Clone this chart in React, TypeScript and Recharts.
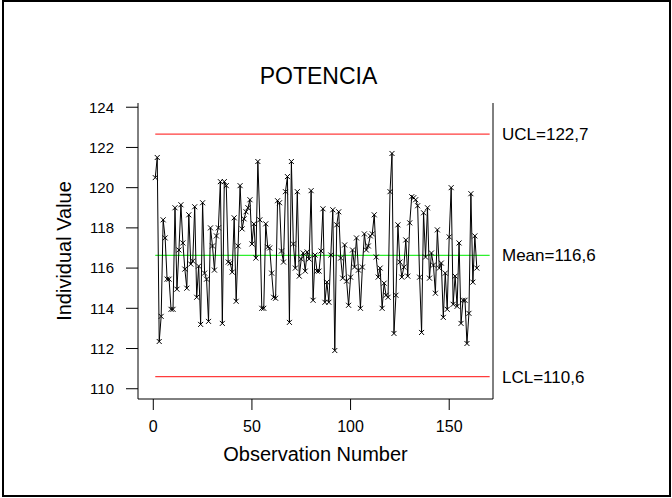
import { LineChart, Line, XAxis, YAxis, ReferenceLine } from 'recharts';

const potencia = [
  120.5, 121.5, 112.35, 113.6, 118.4, 117.5, 115.45, 115.45, 113.95, 113.95,
  119.0, 114.95, 116.9, 119.15, 117.25, 115.95, 115.0, 118.65, 116.2, 116.35,
  119.05, 114.55, 116.1, 113.2, 119.25, 115.75, 115.45, 113.35, 118.0, 117.1,
  115.9, 117.6, 118.0, 120.3, 113.25, 120.3, 120.1, 116.3, 116.25, 115.8,
  118.5, 114.35, 117.1, 120.1, 117.95, 118.45, 118.8, 119.0, 119.4, 117.2,
  118.2, 116.5, 121.3, 118.4, 114.0, 114.0, 118.2, 117.05, 117.0, 115.75,
  114.55, 114.5, 119.35, 119.25, 116.85, 116.3, 119.8, 120.55, 113.3, 121.3,
  117.2, 116.0, 119.8, 115.6, 116.45, 116.75, 115.85, 116.8, 116.45, 119.85,
  114.4, 116.65, 115.85, 115.85, 116.85, 118.95, 114.3, 115.3, 114.3, 116.65,
  118.9, 111.9, 118.15, 118.8, 116.5, 115.5, 117.15, 115.35, 114.15, 115.55,
  116.9, 116.05, 117.5, 115.9, 114.0, 116.05, 117.7, 116.9, 117.1, 117.6,
  117.7, 118.65, 116.55, 115.55, 116.0, 114.0, 115.25, 114.65, 114.55, 119.8,
  121.7, 112.75, 114.65, 118.15, 116.3, 115.55, 116.05, 117.4, 115.6, 118.25,
  119.55, 119.5, 119.4, 119.1, 115.55, 112.8, 118.75, 116.55, 119.0, 115.5,
  116.75, 116.15, 114.75, 117.9, 116.0, 116.25, 113.55, 115.75, 113.95, 117.55,
  120.0, 114.2, 115.6, 114.1, 117.25, 113.25, 114.4, 114.4, 112.25, 113.75,
  119.7, 115.3, 117.6, 116.0,
];

const ucl = 122.66;
const mean = 116.63;
const lcl = 110.6;

const yTicks = [110, 112, 114, 116, 118, 120, 122, 124];
const xTicks = [0, 50, 100, 150];
const yDomain = [109.49, 124.21];
const xDomain = [-7.75, 172.2];
const limitSpan = [1, 170.5];

const fmt = (v: number) => v.toFixed(1).replace('.', ',');
const limitLabels: Record<string, string> = {
  [String(ucl)]: `UCL=${fmt(ucl)}`,
  [String(mean)]: `Mean=${fmt(mean)}`,
  [String(lcl)]: `LCL=${fmt(lcl)}`,
};

const data = potencia.map((v, i) => ({ obs: i + 1, value: v }));

const FONT = 'Arial, "Liberation Sans", sans-serif';

const renderCross = (props: any) => {
  const { cx, cy, index } = props;
  if (cx == null || cy == null) return <g key={index} />;
  const s = 2.5;
  return (
    <path
      key={index}
      d={`M${cx - s},${cy - s}L${cx + s},${cy + s}M${cx - s},${cy + s}L${cx + s},${cy - s}`}
      stroke="#000"
      strokeWidth={1}
      fill="none"
    />
  );
};

export default function App() {
  return (
    <div style={{ position: 'relative', width: 672, height: 498, background: '#fff', fontFamily: FONT }}>
      <style>{'body{margin:0}'}</style>
      <div
        style={{
          position: 'absolute',
          left: 2,
          top: 0,
          width: 669,
          height: 497,
          border: '2px solid #000',
          boxSizing: 'border-box',
        }}
      />
      <div
        style={{
          position: 'absolute',
          left: 0,
          width: 637,
          top: 65,
          textAlign: 'center',
          fontSize: 23,
          lineHeight: '23px',
          color: '#000',
        }}
      >
        POTENCIA
      </div>
      <LineChart
        width={672}
        height={498}
        data={data}
        margin={{ top: 103, right: 0, bottom: 0, left: 0 }}
        style={{ position: 'absolute', left: 0, top: 0, fontFamily: FONT }}
      >
        <XAxis
          xAxisId="top"
          orientation="top"
          dataKey="obs"
          type="number"
          domain={xDomain}
          allowDataOverflow
          height={0}
          tick={false}
          tickLine={false}
          axisLine={{ stroke: '#000' }}
        />
        <XAxis
          dataKey="obs"
          type="number"
          domain={xDomain}
          allowDataOverflow
          ticks={xTicks}
          height={99}
          tickSize={11}
          tickMargin={11}
          tick={{ fontSize: 16, fill: '#000' }}
          tickLine={{ stroke: '#000' }}
          axisLine={{ stroke: '#000' }}
          label={{ value: 'Observation Number', position: 'insideBottom', offset: 37, fontSize: 20, fill: '#000' }}
        />
        <YAxis
          type="number"
          domain={yDomain}
          allowDataOverflow
          ticks={yTicks}
          width={138}
          tickSize={12}
          tickMargin={12}
          tick={{ fontSize: 15, fill: '#000' }}
          tickLine={{ stroke: '#000' }}
          axisLine={{ stroke: '#000' }}
          label={{
            value: 'Individual Value',
            angle: -90,
            position: 'insideLeft',
            offset: 64,
            fontSize: 20,
            fill: '#000',
            style: { textAnchor: 'middle' },
          }}
        />
        <YAxis
          yAxisId="r"
          orientation="right"
          type="number"
          domain={yDomain}
          allowDataOverflow
          ticks={[lcl, mean, ucl]}
          width={179}
          tickSize={0}
          tickMargin={9}
          tickLine={false}
          tick={{ fontSize: 17, fill: '#000' }}
          tickFormatter={(v: number) => limitLabels[String(v)] ?? ''}
          axisLine={{ stroke: '#000' }}
        />
        <ReferenceLine
          segment={[{ x: limitSpan[0], y: ucl }, { x: limitSpan[1], y: ucl }]}
          stroke="#ff3c3c"
          strokeWidth={1.3}
        />
        <ReferenceLine
          segment={[{ x: limitSpan[0], y: lcl }, { x: limitSpan[1], y: lcl }]}
          stroke="#ff3c3c"
          strokeWidth={1.3}
        />
        <ReferenceLine
          segment={[{ x: limitSpan[0], y: mean }, { x: limitSpan[1], y: mean }]}
          stroke="#2ef02e"
          strokeWidth={1.3}
        />
        <Line
          dataKey="value"
          stroke="#000"
          strokeWidth={1}
          dot={renderCross}
          activeDot={false}
          isAnimationActive={false}
        />
      </LineChart>
    </div>
  );
}
